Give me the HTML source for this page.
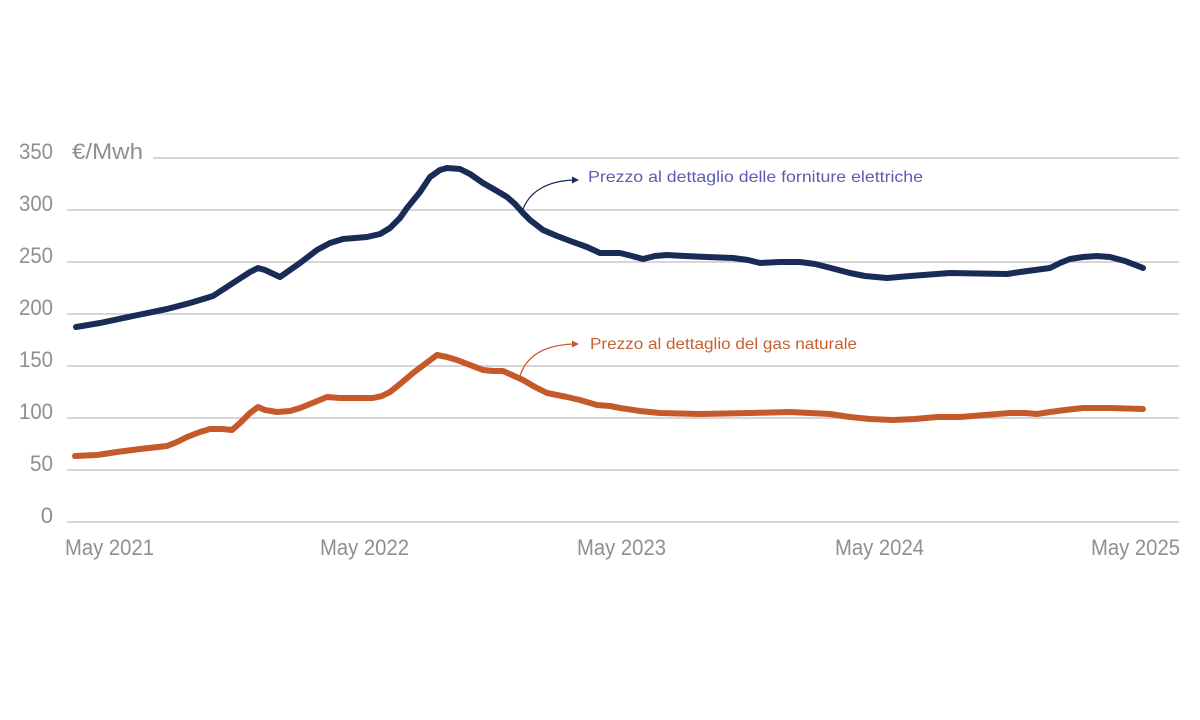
<!DOCTYPE html>
<html>
<head>
<meta charset="utf-8">
<style>
  html,body{margin:0;padding:0;background:#fff;}
  svg{display:block;}
  .tick{font-family:"Liberation Sans",sans-serif;font-size:22px;fill:#8f8f8f;}
  .ann{font-family:"Liberation Sans",sans-serif;font-size:16px;}
</style>
</head>
<body>
<svg width="1200" height="720" viewBox="0 0 1200 720" xmlns="http://www.w3.org/2000/svg">
  <rect width="1200" height="720" fill="#fff"/>
  <!-- grid -->
  <g stroke="#c9c9c9" stroke-width="1.5">
    <line x1="153" y1="158" x2="1179" y2="158"/>
    <line x1="67" y1="210" x2="1179" y2="210"/>
    <line x1="67" y1="262" x2="1179" y2="262"/>
    <line x1="67" y1="314" x2="1179" y2="314"/>
    <line x1="67" y1="366" x2="1179" y2="366"/>
    <line x1="67" y1="418" x2="1179" y2="418"/>
    <line x1="67" y1="470" x2="1179" y2="470"/>
    <line x1="67" y1="522" x2="1179" y2="522"/>
  </g>
  <!-- y labels -->
  <g class="tick" text-anchor="end">
    <text x="53" y="159" textLength="34" lengthAdjust="spacingAndGlyphs">350</text>
    <text x="53" y="211" textLength="34" lengthAdjust="spacingAndGlyphs">300</text>
    <text x="53" y="263" textLength="34" lengthAdjust="spacingAndGlyphs">250</text>
    <text x="53" y="315" textLength="34" lengthAdjust="spacingAndGlyphs">200</text>
    <text x="53" y="367" textLength="34" lengthAdjust="spacingAndGlyphs">150</text>
    <text x="53" y="419" textLength="34" lengthAdjust="spacingAndGlyphs">100</text>
    <text x="53" y="471" textLength="23" lengthAdjust="spacingAndGlyphs">50</text>
    <text x="53" y="523">0</text>
  </g>
  <text class="tick" x="72" y="159" textLength="71" lengthAdjust="spacingAndGlyphs">€/Mwh</text>
  <!-- x labels -->
  <g class="tick">
    <text x="65" y="555" textLength="89" lengthAdjust="spacingAndGlyphs">May 2021</text>
    <text x="320" y="555" textLength="89" lengthAdjust="spacingAndGlyphs">May 2022</text>
    <text x="577" y="555" textLength="89" lengthAdjust="spacingAndGlyphs">May 2023</text>
    <text x="835" y="555" textLength="89" lengthAdjust="spacingAndGlyphs">May 2024</text>
    <text x="1091" y="555" textLength="89" lengthAdjust="spacingAndGlyphs">May 2025</text>
  </g>
  <!-- blue series -->
  <polyline fill="none" stroke="#1a2b58" stroke-width="6" stroke-linejoin="round" stroke-linecap="round"
    points="76,327 100,323 133,316 167,309 190,303 213,296 233,283 250,272 258,268 265,270 280,277 300,263 317,250 330,243 343,239 367,237 380,234 390,228 400,218 407,208 420,192 430,177 440,170 447,168 460,169 470,174 483,183 497,191 507,197 515,204 523,213 530,220 543,230 557,236 573,242 587,247 600,253 610,253 620,253 632,256 643,259 655,256 667,255 685,256 707,257 733,258 748,260 760,263 780,262 800,262 815,264 827,267 850,273 865,276 887,278 910,276 950,273 1007,274 1020,272 1035,270 1050,268 1060,263 1070,259 1083,257 1097,256 1110,257 1125,261 1143,268"/>
  <!-- orange series -->
  <polyline fill="none" stroke="#c6592a" stroke-width="6" stroke-linejoin="round" stroke-linecap="round"
    points="75,456 97,455 117,452 140,449 167,446 177,442 187,437 200,432 210,429 222,429 232,430 240,423 250,413 258,407 265,410 277,412 290,411 300,408 315,402 327,397 340,398 350,398 373,398 382,396 390,392 400,384 413,373 425,364 437,355 447,357 457,360 470,365 483,370 493,371 503,371 512,375 523,380 535,387 547,393 557,395 567,397 580,400 597,405 610,406 620,408 640,411 660,413 700,414 750,413 790,412 810,413 830,414 850,417 870,419 893,420 915,419 937,417 960,417 985,415 1010,413 1025,413 1037,414 1050,412 1065,410 1083,408 1110,408 1143,409"/>
  <!-- annotation arrows -->
  <path d="M522,212 C528,193 545,181 574,180" fill="none" stroke="#1a2b58" stroke-width="1.3"/>
  <path d="M572,176.5 L579,180 L572,183.5 Z" fill="#1a2b58"/>
  <path d="M520,376 C526,357 543,345 574,344" fill="none" stroke="#c6592a" stroke-width="1.3"/>
  <path d="M572,340.5 L579,344 L572,347.5 Z" fill="#c6592a"/>
  <!-- annotation text -->
  <text class="ann" x="588" y="182" fill="#5a5db3" textLength="335" lengthAdjust="spacingAndGlyphs">Prezzo al dettaglio delle forniture elettriche</text>
  <text class="ann" x="590" y="349" fill="#c6612f" textLength="267" lengthAdjust="spacingAndGlyphs">Prezzo al dettaglio del gas naturale</text>
</svg>
</body>
</html>
